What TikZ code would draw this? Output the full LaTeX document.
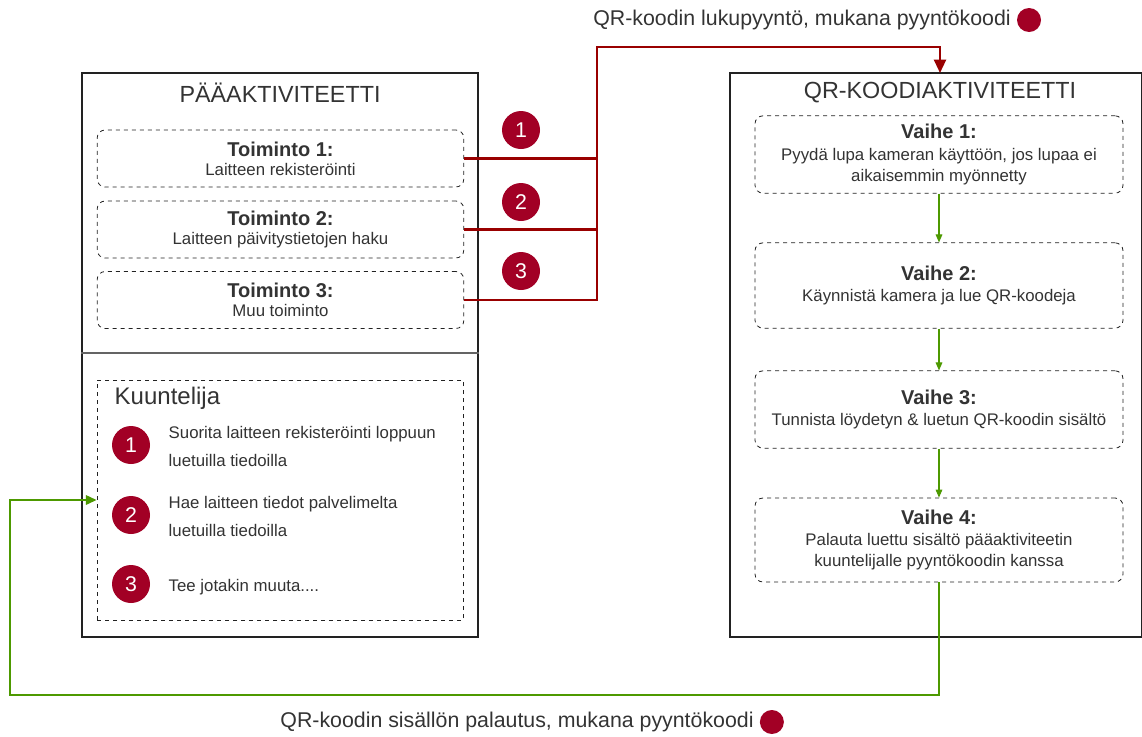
\documentclass[tikz,border=0pt]{standalone}
\usepackage{fontspec}
\setmainfont{Liberation Sans}
\usetikzlibrary{arrows.meta,calc,positioning}
\definecolor{QrInk}{HTML}{333333}
\definecolor{QrFrame}{HTML}{222222}
\definecolor{QrCrimson}{HTML}{A20025}
\definecolor{QrWire}{HTML}{990000}
\definecolor{QrGreen}{HTML}{4D9900}
\newcommand\headfont{\fontsize{15}{17}\selectfont\bfseries}
\tikzset{
  activity/.style={
    draw=QrFrame,
    fill=white,
    line width=0.8pt,
    inner sep=0pt
  },
  title/.style={
    font=\fontsize{17.5}{20}\selectfont,
    text=QrInk
  },
  action/.style={
    draw=QrFrame,
    dashed,
    line width=0.6pt,
    rounded corners=6pt,
    minimum width=275pt,
    minimum height=42.75pt,
    inner ysep=1pt,
    align=center,
    font=\fontsize{12.6}{14}\selectfont,
    text=QrInk
  },
  phase/.style={
    draw=QrFrame,
    dashed,
    line width=0.6pt,
    rounded corners=6pt,
    minimum width=276pt,
    align=center,
    font=\fontsize{12.6}{15.8}\selectfont,
    text=QrInk
  },
  badge/.style={
    circle,
    fill=QrCrimson,
    text=white,
    font=\fontsize{16}{18}\selectfont,
    minimum size=28.5pt,
    inner sep=0pt
  },
  dot/.style={
    circle,
    fill=QrCrimson,
    minimum size=18pt,
    inner sep=0pt
  },
  item/.style={
    anchor=west,
    align=left,
    font=\fontsize{12.6}{21}\selectfont,
    text=QrInk
  },
  request/.style={
    draw=QrWire,
    line width=1.6pt
  },
  flow/.style={
    -{Triangle[length=6pt,width=5pt]},
    draw=QrGreen,
    line width=0.8pt
  },
  reply/.style={
    -{Triangle[length=8pt,width=7pt]},
    draw=QrGreen,
    line width=1.6pt
  }
}

\begin{document}
\begin{tikzpicture}[x=0.75pt,y=-0.75pt]
  \useasboundingbox (0,0) rectangle (1142,736);

  % The two activities.
  \node[activity,minimum width=297pt,minimum height=423pt] (main) at (280,355) {};
  \node[activity,minimum width=309pt,minimum height=423pt] (qr) at (936,355) {};
  \node[title] (main-title) at (280,93) {PÄÄAKTIVITEETTI};
  \node[title] (qr-title) at (940,93) {QR-KOODIAKTIVITEETTI};
  \draw[QrFrame!70,line width=0.8pt] (main.west |- 0,353) -- (main.east |- 0,353);

  % Actions of the main activity.
  \node[action] (t1) at (280.5,158.5) {{\headfont Toiminto 1:}\\Laitteen rekisteröinti};
  \node[action] (t2) at (280.5,229.5) {{\headfont Toiminto 2:}\\Laitteen päivitystietojen haku};
  \node[action] (t3) at (280.5,300) {{\headfont Toiminto 3:}\\Muu toiminto};

  % Listener with its three handlers.
  \node[draw=QrFrame,dashed,line width=0.6pt,minimum width=274.5pt,minimum height=180pt]
    (kuun) at (280,500) {};
  \node[anchor=west,font=\fontsize{18}{20}\selectfont,text=QrInk]
    (kuun-title) at (110,398) {Kuuntelija};
  \node[badge] (k1) at (131,445) {1};
  \node[badge] (k2) at (131,515) {2};
  \node[badge] (k3) at (131,584) {3};
  \node[item] (k1-text) at (164,446) {Suorita laitteen rekisteröinti loppuun\\luetuilla tiedoilla};
  \node[item] (k2-text) at (164,516) {Hae laitteen tiedot palvelimelta\\luetuilla tiedoilla};
  \node[item] (k3-text) at (164,587) {Tee jotakin muuta....};

  % Phases of the QR activity.
  \node[phase,minimum height=58pt] (v1) at (939,154.5)
    {{\headfont Vaihe 1:}\\Pyydä lupa kameran käyttöön, jos lupaa ei\\aikaisemmin myönnetty};
  \node[phase,minimum height=64pt] (v2) at (939,285.5)
    {{\headfont Vaihe 2:}\\Käynnistä kamera ja lue QR-koodeja};
  \node[phase,minimum height=58pt] (v3) at (939,409.5)
    {{\headfont Vaihe 3:}\\Tunnista löydetyn \& luetun QR-koodin sisältö};
  \node[phase,minimum height=63pt] (v4) at (939,540)
    {{\headfont Vaihe 4:}\\Palauta luettu sisältö pääaktiviteetin\\kuuntelijalle pyyntökoodin kanssa};
  \draw[flow] (v1) -- (v2);
  \draw[flow] (v2) -- (v3);
  \draw[flow] (v3) -- (v4);

  % Request wires join on one bus and enter the QR activity.
  \coordinate (bus) at (597,47);
  \coordinate (qr-in) at (940,73);
  \draw[request] (t1.east) -- (t1.east -| bus);
  \draw[request] (t2.east) -- (t2.east -| bus);
  \draw[request,-{Triangle[length=10pt,width=9pt]}] (t3.east) -| (bus) -| (qr-in);
  \node[badge] (r1) at (521,130) {1};
  \node[badge] (r2) at (521,202) {2};
  \node[badge] (r3) at (521,271) {3};
  \node[font=\fontsize{16}{18}\selectfont,text=QrInk] (ask) at (802,20)
    {QR-koodin lukupyyntö, mukana pyyntökoodi};
  \node[dot,right=1pt of ask] (ask-dot) {};

  % Result goes back to the listener.
  \coordinate (back) at (10,695);
  \draw[reply] (v4.south) |- (back) |- (kuun.west);
  \node[font=\fontsize{16}{18}\selectfont,text=QrInk] (answer) at (517,722)
    {QR-koodin sisällön palautus, mukana pyyntökoodi};
  \node[dot,right=1pt of answer] (answer-dot) {};
\end{tikzpicture}
\end{document}
